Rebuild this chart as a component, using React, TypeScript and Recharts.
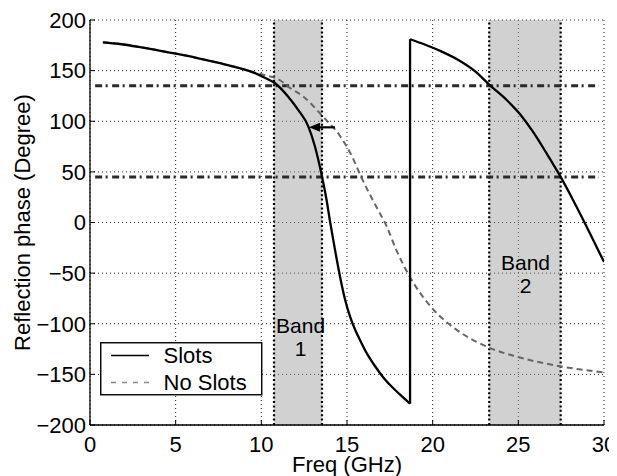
import React from 'react';
import {
  ComposedChart,
  Line,
  XAxis,
  YAxis,
  CartesianGrid,
  ReferenceArea,
  ReferenceLine,
  ReferenceDot,
  Legend,
} from 'recharts';

const FONT = '"Liberation Sans", Arial, Helvetica, sans-serif';

// ---- axes ----
const xTicks = [0, 5, 10, 15, 20, 25, 30];
const yTicks = [-200, -150, -100, -50, 0, 50, 100, 150, 200];

// ---- "Slots" curve, first branch (before the phase wrap) ----
const slotsFreqA = [0.75, 1.75, 3, 4.86, 6.2, 7.59, 8.6, 9.63, 10.2, 10.8, 11.58, 12.16, 12.74, 13.13, 13.52, 13.81, 14.01, 14.3, 14.6, 14.9, 15.18, 15.45, 15.7, 16.15, 16.6, 17.12, 17.6, 18.1, 18.68];
const slotsPhaseA = [178, 176.3, 173, 167.2, 162.7, 157.3, 153, 147.5, 143, 137.5, 124, 111, 95, 75, 47, 22, 1, -27, -54, -77, -93, -105, -114, -129, -141, -153, -162, -170, -179];

// ---- phase wrap ----
const jumpFreq = [18.68, 18.68];
const jumpPhase = [-179, 181];

// ---- "Slots" curve, second branch ----
const slotsFreqB = [18.68, 19.5, 20.5, 21.5, 22.5, 23.31, 24.32, 25.1, 25.88, 26.66, 27.47, 28.2, 29.19, 30];
const slotsPhaseB = [181, 176, 169, 160.5, 149, 136, 121, 107, 89, 68, 45, 22, -11, -39];

// ---- "No Slots" curve ----
const noSlotsFreq = [0.75, 1.75, 3, 4.86, 6.2, 7.59, 8.6, 9.63, 10.22, 11.09, 11.58, 12.55, 13.52, 14.69, 15.27, 15.8, 16.6, 17.32, 17.9, 18.68, 20.04, 21.4, 23.35, 24.9, 27.43, 30];
const noSlotsPhase = [178, 176.3, 173, 167.2, 162.7, 157.3, 153, 148, 145.5, 140.5, 134, 123, 106, 83, 66, 46, 19, -4, -28, -54, -86, -106, -124, -132.5, -142, -148];

// ---- bands, reference levels, annotations ----
const bandStart = [10.74, 23.3];
const bandEnd = [13.54, 27.47];
const bandNames = ['1', '2'];
const bandLabelFreq = [12.29, 25.42];
const bandLabelPhase = [-109, -47];
const refPhases = [135, 45];
const refLineFreq = [0.3, 29.7];
const arrowFreq = [14.3, 12.78];
const arrowPhase = 94;

const legendNames = ['Slots', 'No Slots'];

const toPts = (fs: number[], ps: number[]) => fs.map((f, i) => ({ f, p: ps[i] }));
const slotsA = toPts(slotsFreqA, slotsPhaseA);
const slotsB = toPts(slotsFreqB, slotsPhaseB);
const jump = toPts(jumpFreq, jumpPhase);
const noSlots = toPts(noSlotsFreq, noSlotsPhase);

const fmt = (v: number) => String(v).replace('-', '\u2212');

const BottomTick = (props: any) => {
  const { x, y, payload } = props;
  const axisY = y - 11;
  return (
    <g>
      <line x1={x} x2={x} y1={axisY} y2={axisY - 5} stroke="#000" strokeWidth={1} />
      <text x={x} y={y + 15.7} textAnchor="middle" fontSize={22} fontFamily={FONT} fill="#000">
        {fmt(payload.value)}
      </text>
    </g>
  );
};

const LeftTick = (props: any) => {
  const { x, y, payload } = props;
  const axisX = x + 4;
  return (
    <g>
      <line x1={axisX} x2={axisX + 5} y1={y} y2={y} stroke="#000" strokeWidth={1} />
      <text x={x} y={y + 7.8} textAnchor="end" fontSize={22} fontFamily={FONT} fill="#000">
        {fmt(payload.value)}
      </text>
    </g>
  );
};

const TopTick = (props: any) => {
  const { x, y } = props;
  return <line x1={x} x2={x} y1={y} y2={y + 5} stroke="#000" strokeWidth={1} />;
};

const RightTick = (props: any) => {
  const { x, y } = props;
  return <line x1={x} x2={x - 5} y1={y} y2={y} stroke="#000" strokeWidth={1} />;
};

const XLabel = (props: any) => {
  const vb = props.viewBox;
  return (
    <text x={vb.x + vb.width / 2} y={vb.y + 46.5} textAnchor="middle" fontSize={22} fontFamily={FONT} fill="#000">
      Freq (GHz)
    </text>
  );
};

const YLabel = (props: any) => {
  const vb = props.viewBox;
  const cx = vb.x + 22;
  const cy = vb.y + vb.height / 2;
  return (
    <text x={cx} y={cy} transform={`rotate(-90 ${cx} ${cy})`} textAnchor="middle" fontSize={22} fontFamily={FONT} fill="#000">
      Reflection phase (Degree)
    </text>
  );
};

const ArrowHead = (props: any) => {
  const { cx, cy } = props;
  return <polygon points={`${cx},${cy} ${cx + 11},${cy - 4.5} ${cx + 11},${cy + 4.5}`} fill="#000" />;
};

const makeBandLabel = (name: string) => (props: any) => {
  const { cx, cy } = props;
  return (
    <g>
      <text x={cx} y={cy} textAnchor="middle" fontSize={21} fontFamily={FONT} fill="#000">Band</text>
      <text x={cx} y={cy + 23.4} textAnchor="middle" fontSize={21} fontFamily={FONT} fill="#000">{name}</text>
    </g>
  );
};

const LegendBox = () => (
  <svg width={163} height={54} style={{ display: 'block' }}>
    <rect x={0.75} y={0.75} width={161} height={52} fill="#fff" stroke="#000" strokeWidth={1.4} />
    <line x1={11} x2={49} y1={13.5} y2={13.5} stroke="#000" strokeWidth={1.4} />
    <text x={63.5} y={21.3} fontSize={22} fontFamily={FONT} fill="#000">{legendNames[0]}</text>
    <line x1={11} x2={49} y1={40.5} y2={40.5} stroke="#888" strokeWidth={1.3} strokeDasharray="5 6" />
    <text x={63.5} y={48} fontSize={22} fontFamily={FONT} fill="#000">{legendNames[1]}</text>
  </svg>
);

export default function App() {
  return (
    <div style={{ width: 609, height: 468 }}>
      <style>{'html,body{overflow:hidden}.recharts-surface{overflow:visible}'}</style>
      <ComposedChart
        width={609}
        height={468}
        margin={{ top: 12, right: 13, bottom: 0, left: 0 }}
      >
        <CartesianGrid
          stroke="#222"
          strokeDasharray="1 3"
          strokeWidth={1}
          horizontalValues={yTicks}
          verticalValues={xTicks}
        />
        <XAxis
          dataKey="f"
          type="number"
          domain={[0, 30]}
          ticks={xTicks}
          allowDataOverflow
          height={51}
          tickSize={0}
          tickMargin={11}
          tickLine={false}
          axisLine={{ stroke: '#000', strokeWidth: 1.3 }}
          tick={<BottomTick />}
          label={XLabel}
        />
        <XAxis
          xAxisId="top"
          orientation="top"
          type="number"
          domain={[0, 30]}
          ticks={xTicks}
          allowDataOverflow
          height={0}
          tickSize={0}
          tickMargin={0}
          tickLine={false}
          axisLine={{ stroke: '#000', strokeWidth: 1.3 }}
          tick={<TopTick />}
        />
        <YAxis
          type="number"
          domain={[-200, 200]}
          ticks={yTicks}
          allowDataOverflow
          width={82}
          tickSize={0}
          tickMargin={4}
          tickLine={false}
          axisLine={{ stroke: '#000', strokeWidth: 1.3 }}
          tick={<LeftTick />}
          label={YLabel}
        />
        <YAxis
          yAxisId="right"
          orientation="right"
          type="number"
          domain={[-200, 200]}
          ticks={yTicks}
          allowDataOverflow
          width={0}
          tickSize={0}
          tickMargin={0}
          tickLine={false}
          axisLine={{ stroke: '#000', strokeWidth: 1.3 }}
          tick={<RightTick />}
        />

        {bandStart.map((s, i) => (
          <ReferenceArea
            key={`band${i}`}
            x1={s}
            x2={bandEnd[i]}
            y1={-200}
            y2={200}
            fill="#9a9a9a"
            fillOpacity={0.46}
            stroke="none"
          />
        ))}
        {[...bandStart, ...bandEnd].map((x, i) => (
          <ReferenceLine key={`edge${i}`} x={x} stroke="#000" strokeWidth={2.2} strokeDasharray="2 2.4" />
        ))}
        {refPhases.map((p, i) => (
          <ReferenceLine
            key={`ref${i}`}
            segment={[{ x: refLineFreq[0], y: p }, { x: refLineFreq[1], y: p }]}
            stroke="#2a2a2a"
            strokeWidth={3}
            strokeDasharray="7 3.5 2 4.5"
          />
        ))}

        <Line data={noSlots} dataKey="p" type="monotone" stroke="#666" strokeWidth={2} strokeDasharray="6 4" dot={false} activeDot={false} isAnimationActive={false} legendType="none" />
        <Line data={slotsA} dataKey="p" type="monotone" stroke="#000" strokeWidth={2.3} dot={false} activeDot={false} isAnimationActive={false} legendType="none" />
        <Line data={jump} dataKey="p" type="linear" stroke="#000" strokeWidth={2.3} dot={false} activeDot={false} isAnimationActive={false} legendType="none" />
        <Line data={slotsB} dataKey="p" type="monotone" stroke="#000" strokeWidth={2.3} dot={false} activeDot={false} isAnimationActive={false} legendType="none" />

        <ReferenceLine
          segment={[{ x: arrowFreq[0], y: arrowPhase }, { x: arrowFreq[1] + 0.5, y: arrowPhase }]}
          stroke="#000"
          strokeWidth={2.2}
        />
        <ReferenceDot x={arrowFreq[1]} y={arrowPhase} r={0} shape={ArrowHead} />

        {bandNames.map((n, i) => (
          <ReferenceDot key={`bl${i}`} x={bandLabelFreq[i]} y={bandLabelPhase[i]} r={0} shape={makeBandLabel(n)} />
        ))}

        <Legend
          layout="vertical"
          align="center"
          verticalAlign="middle"
          wrapperStyle={{ left: 92, top: 334, width: 163, height: 54 }}
          content={() => <LegendBox />}
        />
      </ComposedChart>
    </div>
  );
}
